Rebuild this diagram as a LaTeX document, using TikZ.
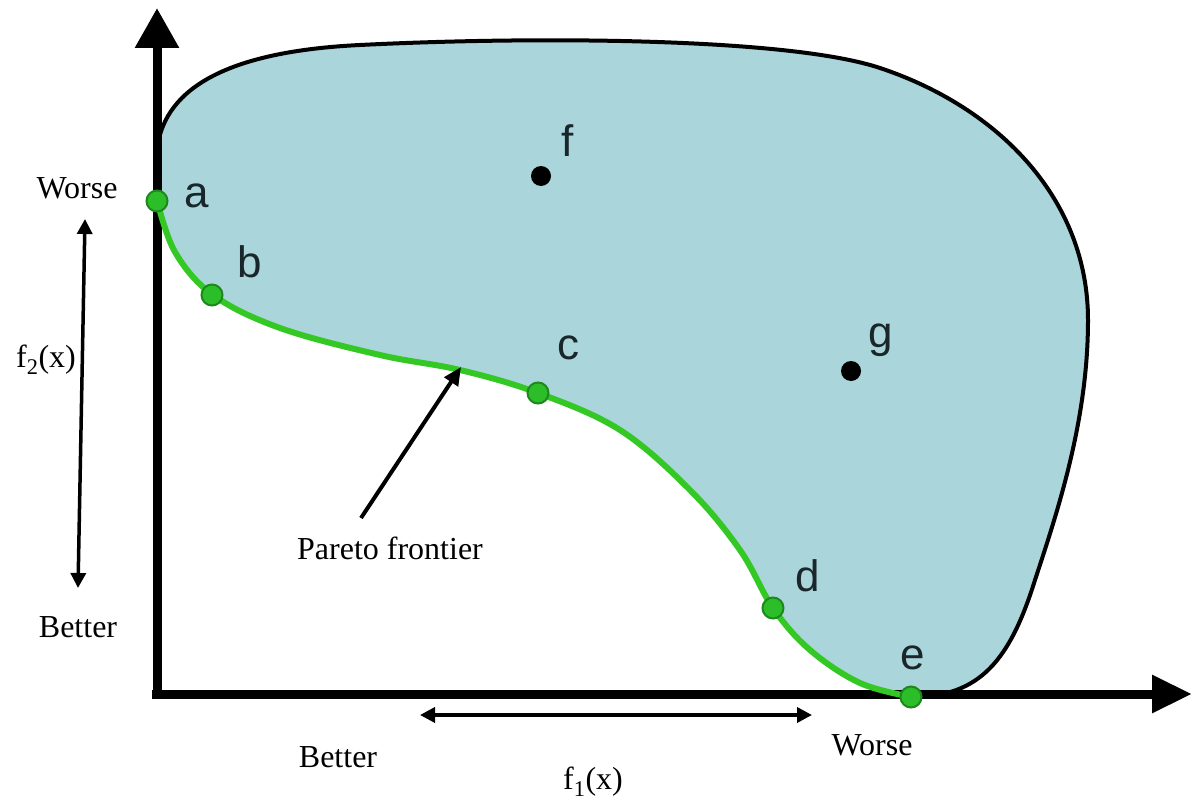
\documentclass[tikz,border=0pt]{standalone}
\usepackage{fontspec}
\setmainfont{Liberation Serif}
\newfontfamily\lblfont{Liberation Sans}
\usetikzlibrary{arrows.meta}
\definecolor{blobfill}{RGB}{170,213,218}
\definecolor{frontgreen}{RGB}{52,200,36}
\definecolor{dotgreen}{RGB}{44,190,40}
\definecolor{dotedge}{RGB}{30,135,30}
\definecolor{lblcol}{RGB}{25,38,42}
\begin{document}
\begin{tikzpicture}[x=1pt,y=-1pt,
  blobline/.style={line width=4pt,black},
  axisline/.style={line width=9pt,black},
  frontline/.style={line width=6pt,frontgreen},
  gdot/.style={circle,fill=dotgreen,draw=dotedge,line width=2pt,minimum size=21pt,inner sep=0pt},
  bdot/.style={circle,fill=black,minimum size=20pt,inner sep=0pt},
  ptlabel/.style={text=lblcol,font=\lblfont\fontsize{44}{48}\selectfont,inner sep=0pt},
  serif/.style={font=\fontsize{32}{37}\selectfont,inner sep=0pt},
  dblarrow/.style={line width=3.5pt,{Triangle[length=15pt,width=15pt]}-{Triangle[length=15pt,width=15pt]}},
  ptrarrow/.style={line width=4pt,-{Triangle[length=18pt,width=16pt]}}
]
\useasboundingbox (0,0) rectangle (1194,800);

% feasible region
\fill[blobfill] (157,150) .. controls (163,95) and (215,52) .. (360,45)
  .. controls (540,36) and (790,38) .. (880,68)
  .. controls (1000,108) and (1088,200) .. (1088,320)
  .. controls (1088,420) and (1058,510) .. (1035,580)
  .. controls (1010,660) and (980,697) .. (912,697)
  -- plot[smooth,tension=0.6] coordinates {(912,697) (860,683) (810,650) (773,608) (740,550) (690,490) (620,430) (538,393) (460,370) (380,355) (280,328) (213,295) (175,252) (157,200)}
  -- cycle;
\draw[blobline] (157,150) .. controls (163,95) and (215,52) .. (360,45)
  .. controls (540,36) and (790,38) .. (880,68)
  .. controls (1000,108) and (1088,200) .. (1088,320)
  .. controls (1088,420) and (1058,510) .. (1035,580)
  .. controls (1010,660) and (980,697) .. (912,697);

% axes
\coordinate (o1) at (157,699);
\coordinate (ytip) at (157,8);
\coordinate (o2) at (152,694);
\coordinate (xtip) at (1192,694);
\draw[axisline,-{Triangle[length=40pt,width=42pt]}] (o1) -- (ytip);
\draw[axisline,-{Triangle[length=40pt,width=36pt]}] (o2) -- (xtip);

% Pareto frontier
\draw[frontline] plot[smooth,tension=0.6] coordinates {(157,200) (175,252) (213,295) (280,328) (380,355) (460,370) (538,393) (620,430) (690,490) (740,550) (773,608) (810,650) (860,683) (912,697)};

% points
\node[gdot] (a) at (157,201) {};
\node[gdot] (b) at (212,295) {};
\node[gdot] (c) at (538,393) {};
\node[gdot] (d) at (773,608) {};
\node[gdot] (e) at (911,697) {};
\node[bdot] (f) at (541,176) {};
\node[bdot] (g) at (851,371) {};

\node[ptlabel] (la) at (197,196) {a};
\node[ptlabel] (lb) at (250,262) {b};
\node[ptlabel] (lc) at (568,348) {c};
\node[ptlabel] (ld) at (808,576) {d};
\node[ptlabel] (le) at (913,658) {e};
\node[ptlabel] (lf) at (568,141) {f};
\node[ptlabel] (lg) at (881,340) {g};

% Pareto frontier annotation
\node[serif] (pf) at (390,548) {Pareto frontier};
\coordinate (pftail) at (361,518);
\coordinate (pftip) at (461,367);
\draw[ptrarrow] (pftail) -- (pftip);

% f2 direction
\node[serif] (w2) at (77,188) {Worse};
\node[serif] (f2) at (46,360) {f\textsubscript{2}(x)};
\node[serif] (b2) at (78,627) {Better};
\coordinate (v1) at (78,588);
\coordinate (v2) at (85,219);
\draw[dblarrow] (v1) -- (v2);

% f1 direction
\node[serif] (b1) at (338,757) {Better};
\node[serif] (w1) at (872,745) {Worse};
\node[serif] (f1) at (593,782) {f\textsubscript{1}(x)};
\coordinate (h1) at (420,715);
\coordinate (h2) at (812,715);
\draw[dblarrow] (h1) -- (h2);
\end{tikzpicture}
\end{document}
